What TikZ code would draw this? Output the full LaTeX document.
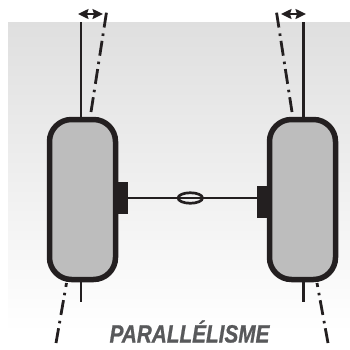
\documentclass[tikz,border=0pt]{standalone}
\usepackage{fontspec}
\setmainfont{Liberation Sans}
\newfontfamily\titlefont[UprightFont=* Bold Italic,FakeBold=1]{Liberation Sans}
\usetikzlibrary{shapes.geometric,arrows.meta}
\definecolor{inkdark}{HTML}{231F20}
\definecolor{tyregray}{HTML}{BDBDBD}
\definecolor{titlegray}{HTML}{58595B}
\definecolor{bandgray}{HTML}{DFDFDF}
\tikzset{
  wheel/.style={draw=inkdark,fill=tyregray,line width=5.5pt,rounded corners=22pt,minimum width=66pt,minimum height=160pt,inner sep=0pt},
  hub/.style={fill=inkdark,minimum width=10pt,minimum height=32pt,inner sep=0pt},
  axis/.style={inkdark,line width=2.6pt},
  toe/.style={inkdark,line width=2.8pt,dash pattern=on 15pt off 5pt on 2.5pt off 6pt},
  gap/.style={inkdark,line width=1.8pt,{Stealth[length=10.5pt,width=10pt,inset=1.5pt]}-{Stealth[length=10.5pt,width=10pt,inset=1.5pt]}}
}
\begin{document}
\begin{tikzpicture}[x=1pt,y=-1pt]
\useasboundingbox (0,0) rectangle (350,349);
\shade[top color=bandgray,bottom color=white] (8,22) rectangle (350,332);

% straight ahead lines
\coordinate (lefttop) at (81,22);
\coordinate (leftbot) at (81,302);
\coordinate (righttop) at (303.5,22);
\coordinate (rightbot) at (303.5,302);
% toe lines
\coordinate (lefttoeA) at (91,112);
\coordinate (lefttoeB) at (107,9);
\coordinate (lefttoeC) at (56,343);
\coordinate (lefttoeD) at (66.5,283);
\coordinate (righttoeA) at (292,112);
\coordinate (righttoeB) at (276,9);
\coordinate (righttoeC) at (328,343);
\coordinate (righttoeD) at (317,283);

\node[wheel] (leftwheel) at (82.5,199.5) {};
\node[wheel] (rightwheel) at (302.5,199.5) {};
\node[hub] (lefthub) at (123,198) {};
\node[hub] (righthub) at (262,202) {};

\draw[axis] (lefttop) -- (leftwheel.north -| lefttop);
\draw[axis] (leftwheel.south -| leftbot) -- (leftbot);
\draw[axis] (righttop) -- (rightwheel.north -| righttop);
\draw[axis] (rightwheel.south -| rightbot) -- (rightbot);

\draw[toe] (lefttoeA) -- (lefttoeB);
\draw[toe] (lefttoeC) -- (lefttoeD);
\draw[toe] (righttoeA) -- (righttoeB);
\draw[toe] (righttoeC) -- (righttoeD);

\draw[axis] (lefthub.east |- 0,198) -- (righthub.west |- 0,198);
\node[draw=inkdark,line width=2.7pt,ellipse,inner sep=0pt,minimum width=24.5pt,minimum height=10.5pt] (knot) at (190.3,198) {};

\coordinate (leftgapA) at (78,14);
\coordinate (leftgapB) at (103,14);
\coordinate (rightgapA) at (281,14);
\coordinate (rightgapB) at (306,14);
\draw[gap] (leftgapA) -- (leftgapB);
\draw[gap] (rightgapA) -- (rightgapB);

\node[text=titlegray,font=\titlefont\fontsize{25}{25}\selectfont,xscale=0.83,inner sep=0pt,anchor=base] (title) at (189.5,342.5) {PARALLÉLISME};
\end{tikzpicture}
\end{document}
